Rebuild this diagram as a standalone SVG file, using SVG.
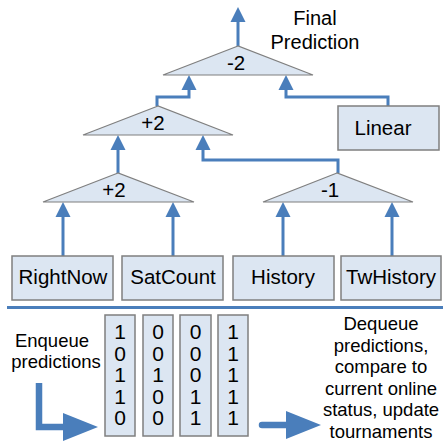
<svg xmlns="http://www.w3.org/2000/svg" width="443" height="442" viewBox="0 0 443 442">
<style>
.tri{fill:#dce6f2;stroke:#7f7f7f;stroke-width:1.2}
.box{fill:#dce6f2;stroke:#7f7f7f;stroke-width:1.5}
.con{fill:none;stroke:#4a7ebb;stroke-width:3}
.big{fill:none;stroke:#4a7ebb;stroke-width:6.5}
text{font-family:"Liberation Sans",Arial,sans-serif;fill:#000}
.lbl{font-size:20.5px;text-anchor:middle}
.op{font-size:20.5px;text-anchor:middle}
.note{font-size:18.5px;text-anchor:middle}
.title{font-size:20px;text-anchor:middle}
.dig{font-size:21px;text-anchor:middle}
</style>
<defs>
<marker id="ah" markerUnits="userSpaceOnUse" markerWidth="16" markerHeight="16" viewBox="0 0 16 16" refX="4" refY="8" orient="auto">
<path d="M0,0.5 L15,8 L0,15.5 z" fill="#4a7ebb"/>
</marker>
<marker id="bh" markerUnits="userSpaceOnUse" markerWidth="36" markerHeight="30" viewBox="0 0 36 30" refX="2" refY="15" orient="auto">
<path d="M0,1 L35,15 L0,29 z" fill="#4a7ebb"/>
</marker>
</defs>

<g id="connectors">
<path class="con" d="M238,46 V18" marker-end="url(#ah)"/>
<path class="con" d="M157,106 V97 H189 V86" marker-end="url(#ah)"/>
<path class="con" d="M388,106 V97 H286 V86" marker-end="url(#ah)"/>
<path class="con" d="M118,173 V146" marker-end="url(#ah)"/>
<path class="con" d="M338,173 V160 H203 V146" marker-end="url(#ah)"/>
<path class="con" d="M63,256 V213" marker-end="url(#ah)"/>
<path class="con" d="M173,256 V213" marker-end="url(#ah)"/>
<path class="con" d="M283,256 V213" marker-end="url(#ah)"/>
<path class="con" d="M392,256 V213" marker-end="url(#ah)"/>
</g>

<g id="final-label">
<text class="title" x="315" y="25">Final</text>
<text class="title" x="315" y="49">Prediction</text>
</g>

<g id="tour-top">
<polygon class="tri" points="238,46 163,75 313,75"/>
<text class="op" x="236" y="70">-2</text>
</g>
<g id="tour-mid">
<polygon class="tri" points="158,106 83,135 233,135"/>
<text class="op" x="153" y="130">+2</text>
</g>
<g id="tour-left">
<polygon class="tri" points="118,173 43,202 194,202"/>
<text class="op" x="114" y="197">+2</text>
</g>
<g id="tour-right">
<polygon class="tri" points="337,173 263,202 413,202"/>
<text class="op" x="330" y="197">-1</text>
</g>

<g id="linear">
<rect class="box" x="338" y="106" width="101" height="44"/>
<text class="lbl" x="383" y="135">Linear</text>
</g>
<g id="rightnow">
<rect class="box" x="12" y="256" width="101" height="44"/>
<text class="lbl" x="63" y="284">RightNow</text>
</g>
<g id="satcount">
<rect class="box" x="122" y="256" width="101" height="44"/>
<text class="lbl" x="173" y="284">SatCount</text>
</g>
<g id="history">
<rect class="box" x="233" y="256" width="101" height="44"/>
<text class="lbl" x="283" y="284">History</text>
</g>
<g id="twhistory">
<rect class="box" x="341" y="256" width="100" height="44"/>
<text class="lbl" x="391" y="284">TwHistory</text>
</g>

<line x1="7" y1="307.5" x2="443" y2="307.5" stroke="#4a7ebb" stroke-width="3"/>

<g id="enqueue">
<text class="note" x="52" y="347">Enqueue</text>
<text class="note" x="56" y="368">predictions</text>
<path class="big" d="M39,383 V427 H65" marker-end="url(#bh)"/>
</g>

<g id="queue">
<rect class="box" x="105" y="315" width="30" height="121"/>
<rect class="box" x="143" y="315" width="30" height="121"/>
<rect class="box" x="180" y="315" width="31" height="121"/>
<rect class="box" x="218" y="315" width="30" height="121"/>
<text class="dig" x="120" y="339">1</text>
<text class="dig" x="120" y="361">0</text>
<text class="dig" x="120" y="382">1</text>
<text class="dig" x="120" y="404">1</text>
<text class="dig" x="120" y="425">0</text>
<text class="dig" x="158" y="339">0</text>
<text class="dig" x="158" y="361">0</text>
<text class="dig" x="158" y="382">1</text>
<text class="dig" x="158" y="404">0</text>
<text class="dig" x="158" y="425">0</text>
<text class="dig" x="195.5" y="339">0</text>
<text class="dig" x="195.5" y="361">0</text>
<text class="dig" x="195.5" y="382">0</text>
<text class="dig" x="195.5" y="404">1</text>
<text class="dig" x="195.5" y="425">1</text>
<text class="dig" x="233" y="339">1</text>
<text class="dig" x="233" y="361">1</text>
<text class="dig" x="233" y="382">1</text>
<text class="dig" x="233" y="404">1</text>
<text class="dig" x="233" y="425">1</text>
</g>

<g id="dequeue">
<path class="big" d="M262,425 H288" stroke-linecap="round" marker-end="url(#bh)"/>
<text class="note" x="381" y="330">Dequeue</text>
<text class="note" x="381" y="352">predictions,</text>
<text class="note" x="381" y="373">compare to</text>
<text class="note" x="381" y="395">current online</text>
<text class="note" x="381" y="416">status, update</text>
<text class="note" x="381" y="438">tournaments</text>
</g>
</svg>
